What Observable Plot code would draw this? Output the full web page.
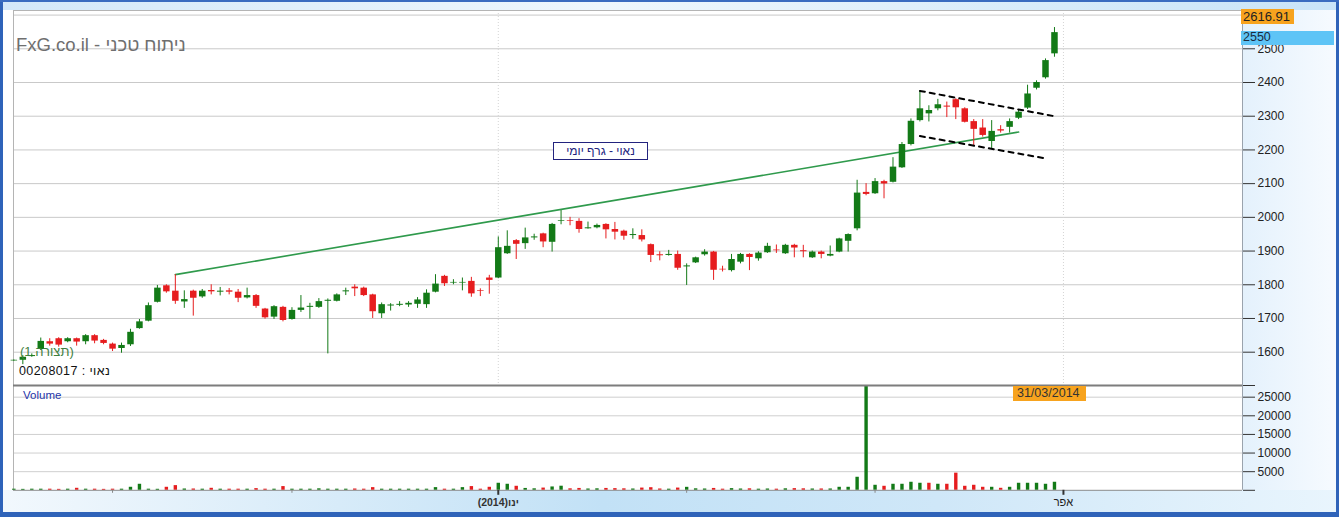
<!DOCTYPE html>
<html>
<head>
<meta charset="utf-8">
<script src="https://cdn.jsdelivr.net/npm/d3@7"></script>
<script src="https://cdn.jsdelivr.net/npm/@observablehq/plot@0.6"></script>
<style>
  html, body { margin: 0; padding: 0; background: #fff; }
  #frame { position: relative; width: 1339px; height: 517px; overflow: hidden; background: #fff;
           font-family: "Liberation Sans", Arial, sans-serif; }
  .abs { position: absolute; }
  .lbl { position: absolute; white-space: nowrap; line-height: 1; }
  svg { overflow: visible; }
</style>
</head>
<body>
<div id="frame">
  <div class="abs" style="left:0;top:0;width:1339px;height:10px;background:linear-gradient(to right,#d3e8f9,#eef7fd 45%,#c9e4f8)"></div>
  <div class="abs" style="left:1243px;top:10px;width:96px;height:480px;background:linear-gradient(to right,#e4f1fc,#f7fbff)"></div>
  <div class="abs" style="left:0;top:490px;width:1339px;height:27px;background:linear-gradient(to right,#f2f8fd,#c2e1f6 45%,#cfe7f8 70%,#e9f5fd)"></div>
  <div id="price" class="abs" style="left:0;top:0"></div>
  <div id="volume" class="abs" style="left:0;top:385px"></div>
  <div id="overlay"></div>
  <div class="abs" style="left:0;top:0;width:3px;height:517px;background:#2f63b9"></div>
  <div class="abs" style="left:1336px;top:0;width:3px;height:517px;background:#2f63b9"></div>
  <div class="abs" style="left:0;top:0;width:1339px;height:2px;background:#3a6cc0"></div>
  <div class="abs" style="left:0;top:512px;width:1339px;height:5px;background:#2f63b9"></div>
</div>
<script>
// ---------- data ----------
const openP = [1574,1576,1587,1608,1631,1640,1631,1640,1631,1649,1635,1624,1611,1622,1670,1692,1748,1797,1781,1749,
  1781,1764,1783,1778,1782,1778,1761,1768,1728,1704,1733,1697,1724,1733,1733,1751,1751,1779,1793,1790,
  1770,1714,1737,1739,1740,1742,1741,1778,1825,1805,1805,1810,1782,1820,1820,1892,1931,1922,1939,1951,
  1926,1988,1990,1988,1966,1969,1979,1964,1959,1946,1946,1919,1889,1887,1890,1853,1865,1889,1897,1846,
  1842,1867,1890,1877,1895,1903,1892,1917,1901,1880,1897,1885,1897,1929,1966,2074,2070,2106,2104,2147,
  2216,2287,2307,2322,2330,2349,2322,2284,2265,2225,2260,2267,2294,2324,2383,2414,2485];
const highP = [1577,1590,1595,1642,1640,1643,1643,1642,1652,1652,1638,1627,1627,1668,1697,1746,1798,1800,1830,1782,
  1784,1786,1800,1792,1789,1786,1790,1771,1730,1738,1736,1732,1768,1745,1759,1758,1773,1790,1800,1793,
  1772,1746,1744,1750,1750,1762,1785,1830,1828,1815,1820,1822,1788,1828,1942,1960,1934,1968,1950,1953,
  1982,2020,2000,1996,1986,1980,1981,1985,1962,1966,1963,1921,1898,1902,1900,1862,1882,1904,1899,1855,
  1890,1893,1892,1898,1923,1918,1920,1920,1917,1900,1900,1915,1938,1951,2110,2100,2115,2110,2177,2222,
  2292,2375,2331,2350,2342,2352,2325,2290,2290,2287,2272,2292,2318,2392,2405,2470,2563];
const lowP = [1573,1563,1585,1605,1618,1615,1628,1618,1622,1625,1622,1602,1597,1617,1668,1690,1746,1775,1742,1730,
  1707,1760,1770,1767,1770,1747,1758,1730,1698,1697,1690,1695,1718,1698,1730,1595,1749,1768,1765,1765,
  1700,1700,1722,1735,1733,1730,1730,1776,1795,1800,1782,1763,1765,1772,1818,1890,1875,1905,1932,1910,
  1897,1978,1975,1953,1965,1966,1936,1933,1932,1935,1927,1866,1871,1885,1843,1798,1863,1885,1813,1838,
  1838,1862,1842,1870,1893,1893,1890,1880,1880,1878,1877,1883,1895,1897,1960,2064,2068,2055,2102,2145,
  2212,2283,2283,2316,2296,2290,2280,2213,2238,2203,2250,2250,2290,2320,2378,2410,2475];
const closeP = [1576,1585,1590,1632,1624,1621,1640,1630,1649,1633,1626,1609,1620,1659,1690,1738,1790,1779,1751,1756,
  1760,1781,1779,1781,1778,1760,1768,1736,1702,1735,1694,1724,1731,1736,1750,1754,1770,1782,1788,1768,
  1720,1741,1740,1742,1745,1755,1775,1802,1803,1807,1807,1773,1780,1813,1910,1914,1920,1939,1942,1927,
  1979,1990,1988,1964,1969,1976,1963,1956,1944,1949,1933,1887,1886,1890,1849,1856,1880,1897,1843,1844,
  1875,1890,1881,1894,1914,1901,1917,1909,1898,1897,1890,1890,1936,1949,2072,2068,2106,2099,2149,2216,
  2285,2322,2317,2334,2327,2325,2282,2261,2243,2255,2256,2284,2312,2366,2400,2465,2548];
const volumes = [300,250,300,300,300,250,300,540,300,300,250,300,300,810,1620,300,270,810,1260,350,
  350,300,540,300,300,300,300,450,300,300,1000,300,300,300,400,300,300,300,350,300,
  720,300,300,300,300,300,300,720,300,300,720,1000,300,810,1890,1620,1080,500,400,600,
  900,1100,400,500,350,400,500,450,400,350,600,700,350,300,600,800,400,350,500,300,
  450,350,400,300,350,300,400,450,400,350,360,360,810,810,3500,28100,1350,1080,1620,1620,
  2160,1890,1890,1620,1620,4600,1080,1350,810,810,540,810,1890,1890,1890,1620,2160];
const volumeColorOverride = {96: "up", 103: "down"};

const priceTicks = [1600,1700,1800,1900,2000,2100,2200,2300,2400,2500,2600];
const volumeTicks = [5000,10000,15000,20000,25000];
const monthTickIndex = [12,32,55,76,97,118];
const monthTickLabel = ["","","(2014)ינו","","","אפר"];
const trendLine = [{i:19, v:1830},{i:113, v:2253}];
const channelUpper = [{i:102, v:2375},{i:117, v:2300}];
const channelLower = [{i:102, v:2241},{i:116, v:2175}];
const lastPriceLabel = 2550;
const cursorPriceLabel = 2616.91;
const dateLabel = "31/03/2014";

// ---------- build ----------
const UP = "#137a17", DOWN = "#e61d1f";
const candles = openP.map((o, k) => ({i: k + 1, open: o, high: highP[k], low: lowP[k], close: closeP[k],
  up: closeP[k] >= o}));
const vols = volumes.map((v, k) => {
  const ov = volumeColorOverride[k + 1];
  return {i: k + 1, v, up: ov ? ov === "up" : candles[k].up};
});

const X_DOMAIN = [0.96, 137.96];
const font = "'Liberation Sans', Arial, sans-serif";
const labelOf = d => monthTickLabel[monthTickIndex.indexOf(d)];

const price = Plot.plot({
  width: 1339, height: 385,
  marginLeft: 13, marginRight: 97, marginTop: 10, marginBottom: 0,
  style: {background: "transparent", fontFamily: font, fontSize: "12px", color: "#222", overflow: "visible"},
  x: {type: "linear", domain: X_DOMAIN, axis: null, label: null},
  y: {domain: [1501.2, 2613.6], axis: null, label: null},
  marks: [
    Plot.gridY(priceTicks, {stroke: "#c9c9c9", strokeOpacity: 1}),
    Plot.ruleX([55, 118], {stroke: "#d4d4d4", strokeDasharray: "1,2", strokeOpacity: 1}),
    Plot.ruleY([2613.6], {stroke: "#b4b4b4"}),
    Plot.ruleX([X_DOMAIN[0]], {stroke: "#b4b4b4"}),
    Plot.ruleX([X_DOMAIN[1]], {stroke: "#9aa3ad", y1: 2613.6, y2: 1501.2}),
    Plot.line(trendLine, {x: "i", y: "v", stroke: "#2f9a4c", strokeWidth: 1.6}),
    Plot.ruleX(candles, {x: "i", y1: "low", y2: "high", stroke: d => d.up ? UP : DOWN, strokeWidth: 1}),
    Plot.ruleX(candles, {x: "i", y1: "open", y2: "close", stroke: d => d.up ? UP : DOWN, strokeWidth: 6.5}),
    Plot.line(channelUpper, {x: "i", y: "v", stroke: "#000", strokeWidth: 2, strokeDasharray: "5,5"}),
    Plot.line(channelLower, {x: "i", y: "v", stroke: "#000", strokeWidth: 2, strokeDasharray: "5,5"}),
    Plot.axisY(priceTicks.filter(t => t < 2600), {anchor: "right", tickSize: 12, tickPadding: 3, label: null,
      stroke: "#333", fill: "#222", fontSize: 12, tickFormat: d => String(d)})
  ]
});
document.getElementById("price").appendChild(price);

const volume = Plot.plot({
  width: 1339, height: 125,
  marginLeft: 13, marginRight: 97, marginTop: 0, marginBottom: 20.2,
  style: {background: "transparent", fontFamily: font, fontSize: "12px", color: "#222", overflow: "visible"},
  x: {type: "linear", domain: X_DOMAIN, axis: null, label: null},
  y: {domain: [0, 28135], axis: null, label: null},
  marks: [
    Plot.gridY(volumeTicks, {stroke: "#cfcfcf", strokeOpacity: 1}),
    Plot.ruleX([X_DOMAIN[0]], {stroke: "#b4b4b4"}),
    Plot.ruleX([X_DOMAIN[1]], {stroke: "#9aa3ad"}),
    Plot.ruleX(vols, {x: "i", y1: 0, y2: "v", stroke: d => d.up ? UP : DOWN, strokeWidth: 3.4}),
    Plot.ruleY([28135], {stroke: "#7d7d7d", strokeWidth: 2}),
    Plot.ruleY([0], {stroke: "#8c8c8c"}),
    Plot.axisY(volumeTicks, {anchor: "right", tickSize: 12, tickPadding: 3, stroke: "#333", fill: "#222",
      fontSize: 12, label: null, tickFormat: d => String(d)}),
    Plot.axisY([0, 28135], {anchor: "right", tickSize: 12, stroke: "#333", label: null, tickFormat: () => ""}),
    Plot.axisX(monthTickIndex.filter((d, k) => !monthTickLabel[k]), {anchor: "bottom", tickSize: 3,
      stroke: "#888", label: null, tickFormat: () => ""}),
    Plot.axisX([monthTickIndex[2]], {anchor: "bottom", tickSize: 5,
      strokeWidth: 2, stroke: "#333", fill: "#333", tickPadding: 3, fontSize: 10.5, fontWeight: "bold", label: null,
      tickFormat: labelOf}),
    Plot.axisX([monthTickIndex[5]], {anchor: "bottom", tickSize: 5,
      strokeWidth: 2, stroke: "#333", fill: "#222", tickPadding: 3, fontSize: 11, label: null,
      tickFormat: labelOf})
  ]
});
document.getElementById("volume").appendChild(volume);

// ---------- annotations (positioned through the plot scales) ----------
const ys = price.scale("y"), xs = price.scale("x");
const ov = document.getElementById("overlay");
function addLabel(text, style) {
  const d = document.createElement("div");
  d.className = "lbl";
  d.textContent = text;
  Object.assign(d.style, style);
  ov.appendChild(d);
  return d;
}
addLabel(String(cursorPriceLabel), {left: "1241px", top: (ys.apply(cursorPriceLabel) + 0.4) + "px",
  width: "53px", height: "15px", background: "#f7a31e", color: "#222", fontSize: "13px",
  padding: "1px 0 0 2px", boxSizing: "border-box"});
addLabel(String(lastPriceLabel), {left: "1241px", top: ys.apply(lastPriceLabel) + "px",
  width: "93px", height: "14px", background: "#5ec4f6", color: "#1b2a3c", fontSize: "12.5px",
  padding: "0 0 0 2px", boxSizing: "border-box"});
addLabel(dateLabel, {left: (xs.apply(117) - 41) + "px", top: "386px", width: "73px", height: "15px",
  background: "#f7a31e", color: "#333", fontSize: "12.5px", padding: "1px 0 0 4px", boxSizing: "border-box"});
addLabel("FxG.co.il - ניתוח טכני", {left: "16px", top: "36px", fontSize: "18.5px", color: "#6f6f6f"});
addLabel("(1 תצורה)", {left: "20px", top: "345px", fontSize: "13px", color: "#3f7f3f"});
addLabel("00208017 : נאוי", {left: "19px", top: "365px", fontSize: "12.5px", color: "#111", letterSpacing: "0.4px"});
addLabel("Volume", {left: "23px", top: "390px", fontSize: "11.5px", color: "#2433a8"});
addLabel("נאוי - גרף יומי", {left: "553px", top: "142px", width: "95px", height: "18px",
  border: "1px solid #23237e", background: "#fff", color: "#23237e", fontSize: "12px",
  textAlign: "center", padding: "2px 0 0 0", boxSizing: "border-box"});
</script>
</body>
</html>
